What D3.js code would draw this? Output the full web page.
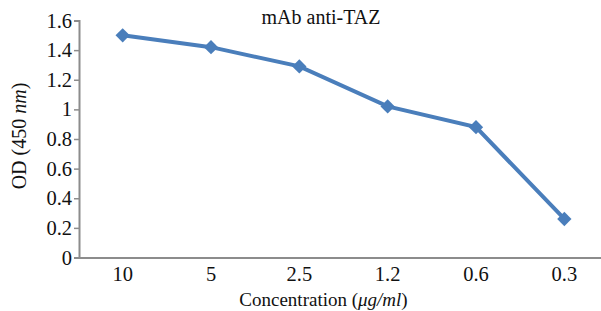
<!DOCTYPE html>
<html><head><meta charset="utf-8">
<script src="https://cdn.jsdelivr.net/npm/d3@7"></script>
<style>
body{margin:0;background:#fff;}
text{font-family:"Liberation Serif","Times New Roman",serif;fill:#111;}
</style></head>
<body><svg id="c" width="601" height="311"></svg>
<script>
const categories = ["10","5","2.5","1.2","0.6","0.3"];
const values = [1.50, 1.42, 1.29, 1.02, 0.88, 0.26];
const yTicks = [0,0.2,0.4,0.6,0.8,1,1.2,1.4,1.6];
const title = "mAb anti-TAZ";

const svg = d3.select("#c");
const x = d3.scaleBand().domain(categories).range([78.5, 608.5]);
const y = d3.scaleLinear().domain([0,1.6]).range([257.5, 20.5]);
const axisColor = "#8c8c8c";
const fs = "20.5px";

// y axis
const ya = svg.append("g").attr("transform","translate(79,0)")
  .call(d3.axisLeft(y).tickValues(yTicks).tickSize(5).tickPadding(2)
    .tickFormat(d => d3.format("~g")(d)));
ya.attr("font-family",null).attr("font-size",null);
ya.select(".domain").attr("stroke",axisColor).attr("stroke-width",2);
ya.selectAll(".tick line").attr("stroke",axisColor).attr("stroke-width",1.5);
ya.selectAll(".tick text").style("font-size",fs).attr("fill","#111");

// x axis
const xa = svg.append("g").attr("transform","translate(0,257.5)")
  .call(d3.axisBottom(x).tickSize(0).tickPadding(9));
xa.attr("font-family",null).attr("font-size",null);
xa.select(".domain").attr("stroke",axisColor).attr("stroke-width",2);
xa.selectAll(".tick text").style("font-size",fs).attr("fill","#111");

// line
const cx = d => x(d) + x.bandwidth()/2;
const line = d3.line().x((d,i)=>cx(categories[i])).y(d=>y(d));
svg.append("path").datum(values).attr("d",line)
  .attr("fill","none").attr("stroke","#4a7ebb").attr("stroke-width",4);
svg.selectAll(".pt").data(values).enter().append("path")
  .attr("class","pt")
  .attr("transform",(d,i)=>`translate(${cx(categories[i])},${y(d)})`)
  .attr("d", d3.symbol().type(d3.symbolDiamond2).size(130))
  .attr("fill","#4a7ebb");

// title
svg.append("text").attr("x",321).attr("y",24).attr("text-anchor","middle")
  .style("font-size","20px").text(title);

// axis titles
const xl = svg.append("text").attr("x",323.5).attr("y",306).attr("text-anchor","middle").style("font-size","19px");
xl.append("tspan").text("Concentration (");
xl.append("tspan").style("font-style","italic").text("μg/ml");
xl.append("tspan").text(")");

const yl = svg.append("text").attr("transform","translate(26,136) rotate(-90)").attr("text-anchor","middle").style("font-size","20px");
yl.append("tspan").text("OD (450 ");
yl.append("tspan").style("font-style","italic").text("nm");
yl.append("tspan").text(")");
</script></body></html>
